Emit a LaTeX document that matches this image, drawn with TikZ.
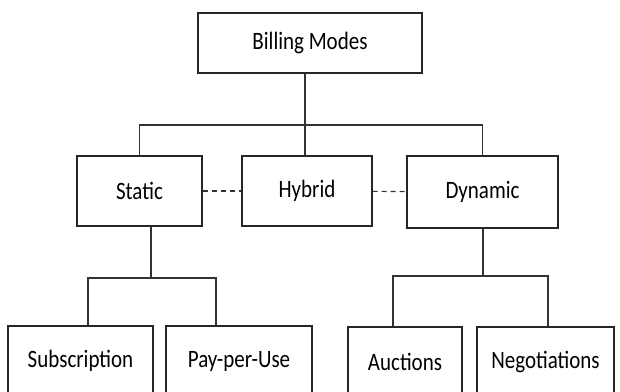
\documentclass[tikz,border=0pt]{standalone}
\usepackage{fontspec}
\setmainfont[FakeStretch=0.84]{Carlito}
\tikzstyle{block} = [rectangle, draw=black!85, line width=1.4pt, fill=white,
    text centered, inner sep=0pt, font=\fontsize{25}{29}\selectfont]
\tikzstyle{line} = [draw=black!80, line width=1.1pt]

\begin{document}
\begin{tikzpicture}[x=1pt, y=-1pt]
	\useasboundingbox (0,0) rectangle (620,391);
	\clip (0,0) rectangle (620,391);

		\node [block, minimum width=224pt, minimum height=60pt] (modes) at (310,43) {Billing Modes};

		\node [block, minimum width=125pt, minimum height=70pt] (static) at (139.5,191) {Static};
		\node [block, minimum width=130pt, minimum height=70pt] (hybrid) at (307,191) {Hybrid};
		\node [block, minimum width=151pt, minimum height=72pt] (dynamic) at (482.5,192) {Dynamic};

		\node [block, minimum width=145pt, minimum height=70pt] (subscr) at (80.5,361) {Subscription};
		\node [block, minimum width=146pt, minimum height=70pt] (payuse) at (239,361) {Pay-per-Use};
		\node [block, minimum width=114pt, minimum height=70pt] (auction) at (405,362) {Auctions};
		\node [block, minimum width=137pt, minimum height=70pt] (negot) at (545.5,362) {Negotiations};

		\coordinate (modesjoin) at (305,125);
		\coordinate (staticjoin) at (151,278);
		\coordinate (dynjoin) at (483,276);

		\path [line] (modesjoin |- modes.south) -- (modesjoin |- hybrid.north);
		\path [line] (static.north) |- (modesjoin) -| (dynamic.north);
		\path [line, dash pattern=on 5pt off 4pt] (static) -- (hybrid);
		\path [line, dash pattern=on 5pt off 4pt] (hybrid) -- (dynamic);

		\path [line] (staticjoin |- static.south) -- (staticjoin);
		\path [line] ([xshift=7.5]subscr.north) |- (staticjoin) -| ([xshift=-23]payuse.north);
		\path [line] (dynjoin |- dynamic.south) -- (dynjoin);
		\path [line] ([xshift=-12]auction.north) |- (dynjoin) -| ([xshift=2.5]negot.north);
	\end{tikzpicture}
\end{document}
